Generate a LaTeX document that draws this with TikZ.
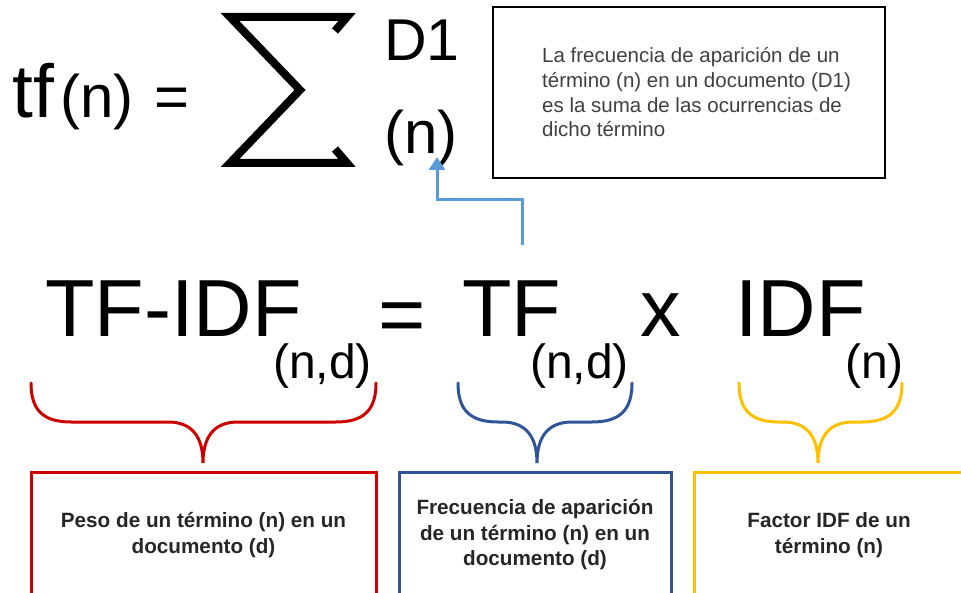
\documentclass[tikz,border=0pt]{standalone}
\usepackage{fontspec}
\setmainfont{Liberation Sans}
\usetikzlibrary{arrows.meta, positioning}

\definecolor{rojo}{HTML}{CC0000}
\definecolor{azul}{HTML}{2F5597}
\definecolor{amarillo}{HTML}{FFC000}
\definecolor{celeste}{HTML}{5B9BD5}
\definecolor{gris}{HTML}{404040}

\newcommand{\tam}[1]{\fontsize{#1}{#1}\selectfont}
\tikzstyle{formula}=[inner sep=0pt, anchor=base west]
\tikzstyle{caja}=[draw, line width=3pt, minimum height=126pt, align=center, text=black!85, font=\fontsize{20.7}{25.5}\selectfont\bfseries]
\tikzstyle{llave}=[line width=3pt, line cap=round]
\tikzstyle{flecha}=[celeste, line width=3pt, -{Triangle[length=13pt, width=16pt]}]

% #1 color, #2 extremo izq., #3 punta, #4 extremo der.
\newcommand{\llave}[4]{%
  \draw[llave, #1] (#2,383) .. controls (#2,410) and (#2+12,422) .. (#2+40,422)
    -- (#3-35,422) .. controls (#3-10,422) and (#3,438) .. (#3,463)
    .. controls (#3,438) and (#3+10,422) .. (#3+35,422)
    -- (#4-40,422) .. controls (#4-12,422) and (#4,410) .. (#4,383);}

\begin{document}
\begin{tikzpicture}[x=1pt, y=-1pt]
  \clip (0,0) rectangle (961,593);

  % tf(n) = suma
  \node[formula, font=\tam{75}] (tf)   at (12,118)  {tf};
  \node[formula, font=\tam{60}] (targ) at (60,118)  {(n)};
  \node[formula, font=\tam{60}] (eq1)  at (154,118) {=};
  \draw[line width=8pt, line join=miter]
    (335,31) -- (347,17) -- (230,17) -- (300,90) -- (230,163) -- (347,163) -- (335,149);
  \node[formula, font=\tam{59}] (d1)   at (384,61)  {D1};
  \node[formula, font=\tam{60}] (nsum) at (384,154) {(n)};

  \node[draw, line width=2pt, minimum width=392pt, minimum height=171pt] (nota) at (689,92.5) {};
  \node[right=50pt of nota.west, anchor=west, inner sep=0pt, align=left, text=gris,
        font=\fontsize{20.5}{24.7}\selectfont] (notatexto)
    {La frecuencia de aparición de un\\ término (n) en un documento (D1)\\
     es la suma de las ocurrencias de\\ dicho término};

  % TF-IDF = TF x IDF
  \node[formula, font=\tam{81}] (tfidf) at (45,337)  {TF-IDF};
  \node[formula, font=\tam{48}] (sub1)  at (273,378) {(n,d)};
  \node[formula, font=\tam{81}] (eq2)   at (378,343) {=};
  \node[formula, font=\tam{81}] (TF)    at (462,337) {TF};
  \node[formula, font=\tam{48}] (sub2)  at (530,378) {(n,d)};
  \node[formula, font=\tam{81}] (por)   at (640,337) {x};
  \node[formula, font=\tam{81}] (idf)   at (735,337) {IDF};
  \node[formula, font=\tam{48}] (sub3)  at (845,379) {(n)};

  \coordinate (origen)  at (522,245);
  \coordinate (codo)    at (522,200);
  \coordinate (destino) at (437,157);
  \draw[flecha] (origen) -- (codo) -| (destino);

  \llave{rojo}{31}{203}{376}
  \llave{azul}{458}{537}{632}
  \llave{amarillo}{739}{818}{902}

  \node[caja, draw=rojo, minimum width=345pt] (peso) at (203.5,535)
    {Peso de un término (n) en un\\ documento (d)};
  \node[caja, draw=azul, minimum width=272pt] (frec) at (535,535)
    {Frecuencia de aparición\\ de un término (n) en un\\ documento (d)};
  \node[caja, draw=amarillo, minimum width=270pt] (factor) at (829,535)
    {Factor IDF de un\\ término (n)};
\end{tikzpicture}
\end{document}
